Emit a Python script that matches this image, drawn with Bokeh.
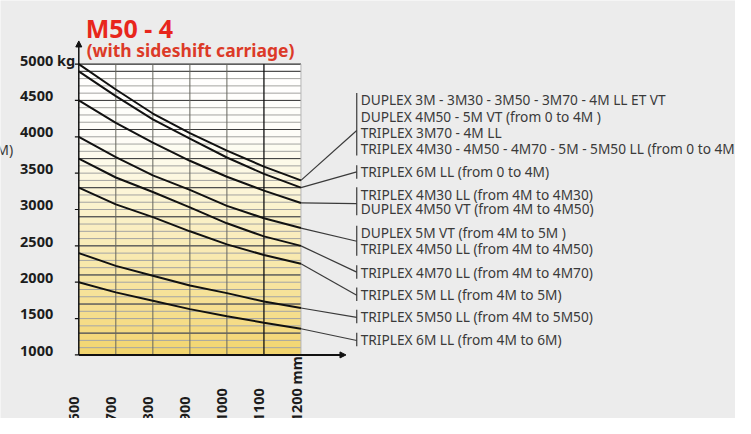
from bokeh.plotting import figure
from bokeh.models import Range1d, Arrow, NormalHead
from bokeh.core.properties import value
from bokeh.embed import file_html
from bokeh.resources import INLINE

# ---------------- data ----------------
load_centre_mm = [600, 700, 800, 900, 1000, 1100, 1200]
cap_1 = [5000, 4650, 4320, 4050, 3810, 3590, 3400]
cap_2 = [4900, 4560, 4240, 3975, 3715, 3490, 3300]
cap_3 = [4500, 4190, 3920, 3670, 3450, 3260, 3090]
cap_4 = [4000, 3720, 3470, 3270, 3050, 2880, 2745]
cap_5 = [3700, 3440, 3240, 3030, 2810, 2630, 2500]
cap_6 = [3300, 3070, 2895, 2700, 2520, 2375, 2255]
cap_7 = [2400, 2225, 2090, 1955, 1850, 1735, 1645]
cap_8 = [2000, 1860, 1745, 1630, 1533, 1443, 1360]
curves = [cap_1, cap_2, cap_3, cap_4, cap_5, cap_6, cap_7, cap_8]

y_ticks = [5000, 4500, 4000, 3500, 3000, 2500, 2000, 1500, 1000]
y_tick_labels = ["5000 kg", "4500", "4000", "3500", "3000", "2500", "2000", "1500", "1000"]
x_ticks = [600, 700, 800, 900, 1000, 1100, 1200]
x_tick_labels = ["600", "700", "800", "900", "1000", "1100", "1200 mm"]

minor_grid_kg = list(range(1100, 5000, 100))
major_grid_kg = [1300, 1700, 2100, 2500, 2900, 3300, 3700, 4100, 4500, 4900]

title_text = "M50 - 4"
subtitle_text = "(with sideshift carriage)"

legend_groups = [
    ["DUPLEX 3M - 3M30 - 3M50 - 3M70 - 4M LL ET VT",
     "DUPLEX 4M50 - 5M VT (from 0 to 4M )",
     "TRIPLEX 3M70 - 4M LL",
     "TRIPLEX 4M30 - 4M50 - 4M70 - 5M - 5M50 LL (from 0 to 4M)"],
    ["TRIPLEX 6M LL (from 0 to 4M)"],
    ["TRIPLEX 4M30 LL (from 4M to 4M30)", "DUPLEX 4M50 VT (from 4M to 4M50)"],
    ["DUPLEX 5M VT (from 4M to 5M )", "TRIPLEX 4M50 LL (from 4M to 4M50)"],
    ["TRIPLEX 4M70 LL (from 4M to 4M70)"],
    ["TRIPLEX 5M LL (from 4M to 5M)"],
    ["TRIPLEX 5M50 LL (from 4M to 5M50)"],
    ["TRIPLEX 6M LL (from 4M to 6M)"],
]

# ---------------- layout (reference-picture pixels) ----------------
W, H = 735, 418
REF_W, REF_H = 751, 434


def kx(px):
    return 600 + (px - 80) * 600.0 / 227.0


def ky(py):
    return 5000 - (py - 66) * 1000.0 / 75.5


legend_line_py = [[103, 120, 137, 154], [178], [201, 216], [241, 258], [282], [305], [328], [352]]
connector_py = [135, 178, 211, 250, 282, 306, 329, 353]
legend_bar_px = 364
legend_text_px = 368

p = figure(width=W, height=H, output_backend="svg", toolbar_location=None,
           x_range=Range1d(kx(0), kx(REF_W)), y_range=Range1d(ky(REF_H), ky(0)),
           x_axis_type=None, y_axis_type=None, min_border=0)
p.grid.visible = False
p.outline_line_color = None
p.background_fill_color = "#ececec"
p.border_fill_color = "#ececec"

# background gradient bands (styling)
anchors = [(1000, (242, 212, 108)), (1500, (245, 221, 138)), (2000, (247, 228, 160)),
           (2500, (249, 235, 182)), (3000, (251, 242, 204)), (3500, (252, 248, 226)),
           (4000, (254, 253, 248)), (5000, (255, 255, 255))]


def band_color(kg):
    for (k0, c0), (k1, c1) in zip(anchors[:-1], anchors[1:]):
        if k0 <= kg <= k1:
            t = (kg - k0) / (k1 - k0)
            c = [round(a + (b - a) * t) for a, b in zip(c0, c1)]
            return "#%02x%02x%02x" % tuple(c)
    return "#ffffff"


bottoms = list(range(1000, 5000, 100))
p.quad(left=x_ticks[0], right=x_ticks[-1], bottom=bottoms, top=[b + 100 for b in bottoms],
       fill_color=[band_color(b + 50) for b in bottoms], line_color=None)

# horizontal grid
p.segment(x0=x_ticks[0], x1=x_ticks[-1], y0=minor_grid_kg, y1=minor_grid_kg,
          line_color="#a4a4a0", line_width=1)
p.segment(x0=x_ticks[0], x1=x_ticks[-1], y0=major_grid_kg, y1=major_grid_kg,
          line_color="#3c3c3c", line_width=1)
p.segment(x0=x_ticks[0], x1=x_ticks[-1], y0=y_ticks[0], y1=y_ticks[0],
          line_color="#2a2a2a", line_width=1.2)

# vertical grid
vcolors = ["#66665e"] * 4 + ["#111111", "#b4b4b4"]
p.segment(x0=x_ticks[1:], x1=x_ticks[1:], y0=y_ticks[-1], y1=y_ticks[0],
          line_color=vcolors, line_width=[1, 1, 1, 1, 1.3, 1])

# axes
p.add_layout(Arrow(end=NormalHead(size=6, fill_color="#111111", line_color="#111111"),
                   x_start=x_ticks[0], y_start=y_ticks[-1], x_end=x_ticks[0], y_end=ky(42),
                   line_color="#111111", line_width=1.5))
p.add_layout(Arrow(end=NormalHead(size=6, fill_color="#111111", line_color="#111111"),
                   x_start=x_ticks[0], y_start=y_ticks[-1], x_end=kx(353), y_end=y_ticks[-1],
                   line_color="#111111", line_width=2))
p.segment(x0=kx(76), x1=x_ticks[0], y0=y_ticks, y1=y_ticks, line_color="#111111", line_width=1.2)

# curves
for c in curves:
    p.line(load_centre_mm, c, line_color="#111111", line_width=2)

# connectors, legend bars and texts
for grp, lines_py, cpy, c in zip(legend_groups, legend_line_py, connector_py, curves):
    p.line([load_centre_mm[-1], kx(legend_bar_px)], [c[-1], ky(cpy)],
           line_color="#3a3a3a", line_width=1.2)
    p.segment(x0=kx(legend_bar_px), x1=kx(legend_bar_px),
              y0=ky(lines_py[0] - 7), y1=ky(lines_py[-1] + 7),
              line_color="#3a3a3a", line_width=1.2)
    p.text(x=[kx(legend_text_px)] * len(grp), y=[ky(v) for v in lines_py], text=grp,
           text_font=value("Noto Sans"), text_font_size="13.7px", text_color="#3a3a3a",
           text_baseline="middle", text_align="left")

# tick labels
p.text(x=[kx(20)] * len(y_ticks), y=[ky((5000 - t) * 75.5 / 1000 + 66 - 4.5) for t in y_ticks],
       text=y_tick_labels, text_font=value("Noto Sans"), text_font_style="bold",
       text_font_size="14.5px", text_color="#1c1c1c", text_baseline="middle", text_align="left")
p.text(x=[kx((t - 600) * 227 / 600 + 80 - 5) for t in x_ticks], y=[ky(437)] * len(x_ticks),
       text=x_tick_labels, angle=1.5708, text_font=value("Noto Sans"), text_font_style="bold",
       text_font_size="14.5px", text_color="#1c1c1c", text_baseline="middle", text_align="left")

# titles
p.text(x=[kx(87)], y=[ky(29)], text=[title_text], text_font=value("Noto Sans"),
       text_font_style="bold", text_font_size="25px", text_color="#e8261c",
       text_baseline="middle", text_align="left")
p.text(x=[kx(88)], y=[ky(51.5)], text=[subtitle_text], text_font=value("Noto Sans"),
       text_font_style="bold", text_font_size="17.5px", text_color="#dc3a28",
       text_baseline="middle", text_align="left")

# cut-off axis caption on the far left
p.text(x=[kx(13)], y=[ky(155)], text=["(4M)"], text_font=value("Noto Sans"),
       text_font_size="14px", text_color="#3a3a3a", text_baseline="middle", text_align="right")

html = file_html(p, INLINE)
html = html.replace("<body>", '<body style="background:#ececec">', 1)
open("out.html", "w").write(html)
